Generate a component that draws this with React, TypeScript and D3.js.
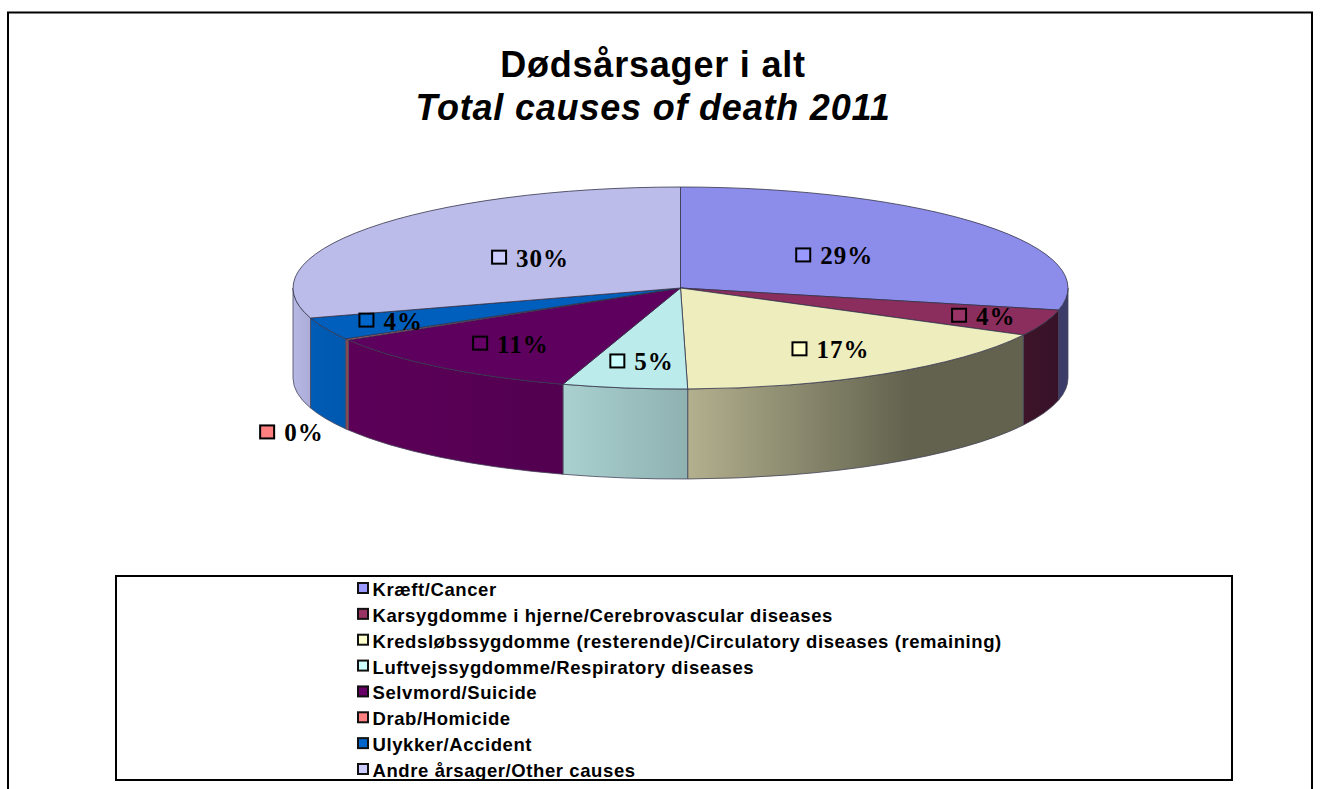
import React from "react";
import * as d3 from "d3";

const categories = [
  "Kræft/Cancer",
  "Karsygdomme i hjerne/Cerebrovascular diseases",
  "Kredsløbssygdomme (resterende)/Circulatory diseases (remaining)",
  "Luftvejssygdomme/Respiratory diseases",
  "Selvmord/Suicide",
  "Drab/Homicide",
  "Ulykker/Accident",
  "Andre årsager/Other causes",
];
const shares = [28.5, 4.2, 17.0, 5.2, 11.49, 0.2, 3.6, 29.8];
const topColors = ["#8c8ceb", "#8c2e5d", "#ededbe", "#bbebeb", "#5e005e", "#eb7676", "#005ebc", "#bcbceb"];
const swatchColors = ["#9999ff", "#993366", "#ffffcc", "#ccffff", "#660066", "#ff8080", "#0066cc", "#ccccff"];
const wallLeft = ["#3c3c6c", "#3d1428", "#b3b08e", "#a9d0cf", "#5c0058", "#a05050", "#005cb6", "#b8b8e4"];
const wallRight = ["#3c3c68", "#38122a", "#62624e", "#8fb1b1", "#520050", "#a05050", "#0058ae", "#acacd8"];
const labelRadius = [0.5, 0.825, 0.725, 0.745, 0.715, 1.175, 0.825, 0.49];
const labelOnFloor = [false, false, false, false, false, true, false, false];

const cx = 680.5, cy = 288, rx = 387.5, ry = 101, depth = 90;
const px = (a: number, r = 1) => cx + rx * r * Math.sin(a);
const py = (a: number, r = 1) => cy - ry * r * Math.cos(a);

const arcs = d3.pie<number>().sort(null)(shares);
const legendY = d3.scaleLinear().domain([0, 7]).range([590, 771]);

function topPath(s: number, e: number) {
  const large = e - s > Math.PI ? 1 : 0;
  return `M${cx},${cy}L${px(s)},${py(s)}A${rx},${ry} 0 ${large} 1 ${px(e)},${py(e)}Z`;
}
function wallPath(s: number, e: number) {
  const a = Math.max(s, Math.PI / 2), b = Math.min(e, (3 * Math.PI) / 2);
  if (b <= a) return null;
  return `M${px(a)},${py(a)}A${rx},${ry} 0 0 1 ${px(b)},${py(b)}L${px(b)},${py(b) + depth}A${rx},${ry} 0 0 0 ${px(a)},${py(a) + depth}Z`;
}

export default function App() {
  const sans = "'Liberation Sans', Arial, sans-serif";
  const serif = "'Liberation Serif', 'Times New Roman', serif";
  return (
    <svg width={1321} height={789} style={{ position: "absolute", left: 0, top: 0, background: "#fff" }}>
      <defs>
        {arcs.map((d, i) => {
          const a = Math.max(d.startAngle, Math.PI / 2), b = Math.min(d.endAngle, (3 * Math.PI) / 2);
          if (b <= a) return null;
          const x1 = Math.min(px(a), px(b)), x2 = Math.max(px(a), px(b));
          return (
            <linearGradient key={i} id={`wall${i}`} gradientUnits="userSpaceOnUse" x1={x1} x2={x2} y1={0} y2={0}>
              <stop offset="0" stopColor={wallLeft[i]} />
              <stop offset={i === 2 ? 0.66 : 1} stopColor={wallRight[i]} />
              <stop offset="1" stopColor={wallRight[i]} />
            </linearGradient>
          );
        })}
      </defs>
      <path d="M8,789V12.5H1312V789" fill="none" stroke="#000" strokeWidth={2} />

      <text textAnchor="middle" fontFamily={sans} fontWeight="bold" fontSize={36} letterSpacing={0.8} x={653} y={77}>Dødsårsager i alt</text>
      <text textAnchor="middle" fontFamily={sans} fontWeight="bold" fontStyle="italic" fontSize={36} letterSpacing={0.8} x={653} y={120}>Total causes of death 2011</text>

      {arcs.map((d, i) => {
        const p = wallPath(d.startAngle, d.endAngle);
        return p ? <path key={i} d={p} fill={`url(#wall${i})`} stroke="#45455a" strokeWidth={0.8} /> : null;
      })}
      {arcs.map((d, i) => (
        <path key={i} d={topPath(d.startAngle, d.endAngle)} fill={topColors[i]} stroke="#33334a" strokeWidth={0.8} />
      ))}

      {arcs.map((d, i) => {
        const mid = (d.startAngle + d.endAngle) / 2;
        const label = `${Math.round(shares[i])}%`;
        const w = label.length === 3 ? 75 : 61;
        const lx = px(mid, labelRadius[i]);
        const ly = py(mid, labelRadius[i]) + (labelOnFloor[i] ? depth - 5 : 0) - 1;
        const x0 = lx - w / 2 + 2;
        return (
          <g key={i}>
            <rect x={x0} y={ly - 7} width={14} height={13} fill={swatchColors[i]} stroke="#000" strokeWidth={2} />
            <text x={x0 + 24} y={ly + 9} fontFamily={serif} fontWeight="bold" fontSize={25} letterSpacing={1} fill="#000">{label}</text>
          </g>
        );
      })}

      <rect x={116} y={576} width={1116} height={204} fill="#fff" stroke="#000" strokeWidth={2} />
      {categories.map((c, i) => (
        <g key={i}>
          <rect x={358} y={legendY(i) - 7} width={10} height={10} fill={swatchColors[i]} stroke="#111" strokeWidth={2} />
          <text x={372.5} y={legendY(i) + 6} fontFamily={sans} fontWeight="bold" fontSize={18.5} letterSpacing={0.59} fill="#000">{c}</text>
        </g>
      ))}
    </svg>
  );
}
